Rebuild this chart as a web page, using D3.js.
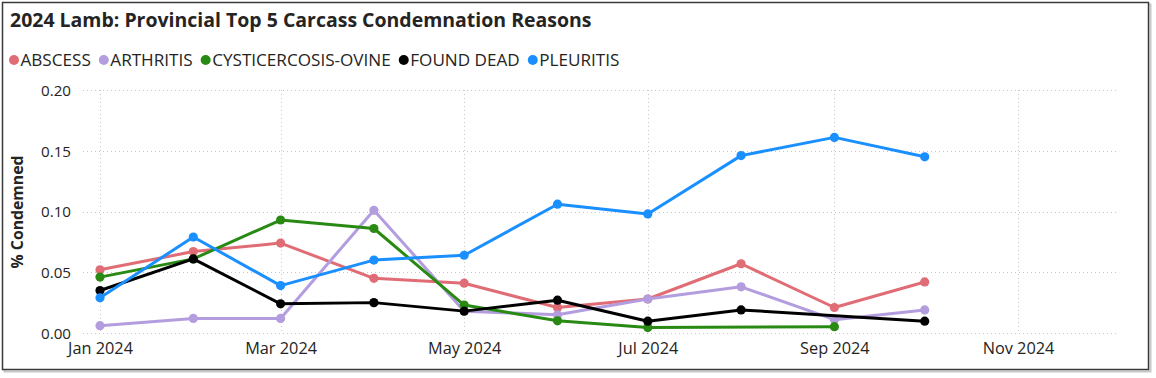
<!DOCTYPE html>
<html><head><meta charset="utf-8">
<script src="https://cdn.jsdelivr.net/npm/d3@7"></script>
<style>body{margin:0;background:#fff} svg{display:block}</style>
</head><body>
<svg id="c" width="1156" height="378"></svg>
<script>
// ---------- data ----------
const months = ["2024-01-01","2024-02-01","2024-03-01","2024-04-01","2024-05-01","2024-06-01","2024-07-01","2024-08-01","2024-09-01","2024-10-01"];
const seriesNames = ["ABSCESS","ARTHRITIS","CYSTICERCOSIS-OVINE","FOUND DEAD","PLEURITIS"];
const abscess       = [0.052,0.067,0.074,0.045,0.041,0.021,0.028,0.057,0.021,0.042];
const arthritis     = [0.006,0.012,0.012,0.101,0.018,0.015,0.028,0.038,0.011,0.019];
const cysticercosis = [0.046,0.061,0.093,0.086,0.023,0.010,0.0045,null,0.0052,null];
const foundDead     = [0.035,0.061,0.024,0.025,0.018,0.027,0.0097,0.019,null,0.0097];
const pleuritis     = [0.029,0.079,0.039,0.060,0.064,0.106,0.098,0.146,0.161,0.145];
const yTicks = [0,0.05,0.10,0.15,0.20];
const xTickDates = ["2024-01-01","2024-03-01","2024-05-01","2024-07-01","2024-09-01","2024-11-01"];
const colors = ["#E06C75","#B39DDF","#288A12","#000000","#1A8FFF"];

const allSeries = [abscess, arthritis, cysticercosis, foundDead, pleuritis];
const parse = d3.utcParse("%Y-%m-%d");

const svg = d3.select("#c");
const FONT = "'Segoe UI','Open Sans','Noto Sans',sans-serif";
const textCol = "#252423";

// outer frame
svg.append("rect").attr("x",4.5).attr("y",4.5).attr("width",1146).attr("height",367)
  .attr("fill","none").attr("stroke","#c8c8c8").attr("stroke-width",2);
svg.append("rect").attr("x",2.5).attr("y",2.5).attr("width",1146).attr("height",367)
  .attr("fill","#fff").attr("stroke","#3a3a3a").attr("stroke-width",1.5);

function fit(sel, target){
  const w = sel.node().getComputedTextLength();
  const fs = parseFloat(sel.attr("font-size"));
  const nf = fs*target/w;
  sel.attr("font-size", nf);
  return nf;
}

// title
const title = svg.append("text").attr("x",10).attr("y",27)
  .attr("font-family",FONT).attr("font-weight","bold").attr("font-size",19)
  .attr("fill",textCol).text("2024 Lamb: Provincial Top 5 Carcass Condemnation Reasons");
fit(title, 582);

// scales
const x = d3.scaleUtc().domain([parse("2024-01-01"), parse("2024-11-01")]).range([100,1018]);
const y = d3.scaleLinear().domain([0,0.20]).range([333,90]);
const plotL = 83, plotR = 1118;

// gridlines
const grid = svg.append("g").attr("stroke","#c8c6c4").attr("stroke-width",1).attr("stroke-dasharray","1,3");
yTicks.forEach(t=>{
  grid.append("line").attr("x1",plotL).attr("x2",plotR).attr("y1",Math.round(y(t))+0.5).attr("y2",Math.round(y(t))+0.5);
});
xTickDates.forEach(d=>{
  const xx = Math.round(x(parse(d)))+0.5;
  grid.append("line").attr("x1",xx).attr("x2",xx).attr("y1",y(0.20)).attr("y2",y(0));
});

// y axis labels
const yAxis = d3.axisLeft(y).tickValues(yTicks).tickFormat(d3.format(".2f")).tickSize(0).tickPadding(0);
const yg = svg.append("g").attr("transform","translate(71,0)").call(yAxis);
yg.select(".domain").remove();
yg.selectAll("text").attr("font-family",FONT).attr("font-size",16).attr("fill",textCol).attr("dy","0.35em");
const ys = yg.select("text"); 
const yfs = fit(ys,30);
yg.selectAll("text").attr("font-size",yfs);

// x axis labels
const xAxis = d3.axisBottom(x).tickValues(xTickDates.map(parse)).tickFormat(d3.utcFormat("%b %Y")).tickSize(0).tickPadding(0);
const xg = svg.append("g").attr("transform","translate(0,340)").call(xAxis);
xg.select(".domain").remove();
xg.selectAll("text").attr("font-family",FONT).attr("font-size",16).attr("fill",textCol).attr("dy","0.85em");
const xfs = fit(xg.select("text"),65);
xg.selectAll("text").attr("font-size",xfs);

// y title
const yt = svg.append("text").attr("transform","translate(23,212) rotate(-90)")
  .attr("text-anchor","middle").attr("font-family",FONT).attr("font-weight","bold")
  .attr("font-size",14).attr("fill",textCol).text("% Condemned");
fit(yt,113);

// lines
const line = d3.line().x(d=>x(d.date)).y(d=>y(d.v));
allSeries.forEach((vals,i)=>{
  const pts = months.map((m,j)=>({date:parse(m), v:vals[j]})).filter(d=>d.v!==null);
  const g = svg.append("g");
  g.append("path").datum(pts).attr("d",line).attr("fill","none")
    .attr("stroke",colors[i]).attr("stroke-width",3).attr("stroke-linejoin","round");
  g.selectAll("circle").data(pts).join("circle")
    .attr("cx",d=>x(d.date)).attr("cy",d=>y(d.v)).attr("r",4.6).attr("fill",colors[i]);
});

// legend
const leg = svg.append("g");
const legFs = xfs*1.05;
let lx = 9;
seriesNames.forEach((n,i)=>{
  leg.append("circle").attr("cx",lx+5).attr("cy",60).attr("r",5).attr("fill",colors[i]);
  const t = leg.append("text").attr("x",lx+11.5).attr("y",60).attr("dy","0.35em")
    .attr("font-family",FONT).attr("font-size",legFs).attr("fill",textCol).text(n);
  lx = lx + 11.5 + t.node().getComputedTextLength() + 8;
});
</script>
</body></html>
